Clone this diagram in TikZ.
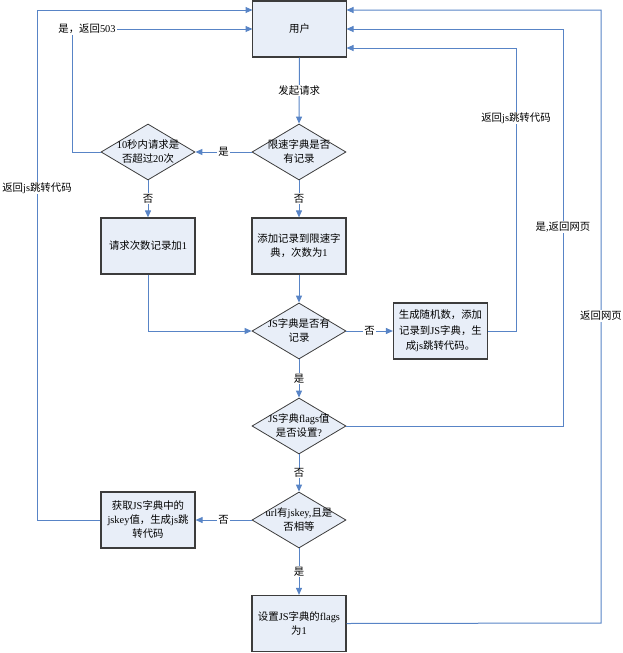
\documentclass[tikz,border=0pt]{standalone}
\usepackage{fontspec}
\setmainfont{Liberation Serif}
\newfontfamily\cjk{Noto Sans CJK SC}
\newfontfamily\latf{Liberation Serif}
\usetikzlibrary{shapes.geometric,arrows.meta}
\XeTeXinterchartokenstate=1
\newXeTeXintercharclass\cjkcls
\newcount\mycnt
\mycnt="4E00
\loop
\XeTeXcharclass\mycnt=\cjkcls
\ifnum\mycnt<"9FFF \advance\mycnt by 1 \repeat
\XeTeXcharclass"FF0C=\cjkcls
\XeTeXcharclass"3002=\cjkcls
\XeTeXinterchartoks 0 \cjkcls = {\cjk}
\XeTeXinterchartoks 4095 \cjkcls = {\cjk}
\XeTeXinterchartoks \cjkcls 0 = {\latf}
\XeTeXinterchartoks \cjkcls 4095 = {\latf}
\definecolor{lnc}{RGB}{88,132,198}
\definecolor{bdc}{RGB}{60,60,60}
\definecolor{fillc}{RGB}{232,238,248}
\begin{document}
\begin{tikzpicture}[x=1pt,y=-1pt,
  font=\fontsize{10.4}{14}\selectfont,
  ln/.style={draw=lnc, line width=1pt},
  arr/.style={ln, -{Triangle[width=6pt,length=7pt]}},
  box/.style={draw=bdc, line width=1.2pt, fill=fillc, minimum width=94pt, minimum height=56pt, align=center, inner sep=2pt},
  dia/.style={diamond, draw=bdc, line width=0.8pt, fill=fillc, minimum width=94pt, minimum height=56pt, inner sep=0pt},
  lab/.style={fill=white, inner sep=1pt}]
\useasboundingbox (0,0) rectangle (623,653);

% nodes
\node[box] (user) at (299.5,29) {用户};
\node[dia, label={[align=center]center:限速字典是否\\有记录}] (d1) at (299,152) {};
\node[dia, label={[align=center]center:10秒内请求是\\否超过20次}] (d2) at (148,152) {};
\node[box] (b1) at (148,246) {请求次数记录加1};
\node[box] (b2) at (299,246) {添加记录到限速字\\典，次数为1};
\node[dia, label={[align=center]center:JS字典是否有\\记录}] (d3) at (299,331) {};
\node[box, font=\fontsize{10.4}{15.5}\selectfont] (b3) at (440.5,331) {生成随机数，添加\\记录到JS字典，生\\成js跳转代码。};
\node[dia, label={[align=center]center:JS字典flags值\\是否设置?}] (d4) at (299,426) {};
\node[dia, label={[align=center]center:url有jskey,且是\\否相等}] (d5) at (299,520) {};
\node[box] (b4) at (148,520) {获取JS字典中的\\jskey值，生成js跳\\转代码};
\node[box] (b5) at (299,623.5) {设置JS字典的flags\\为1};

% anchor coordinates on the user box
\coordinate (ul1) at (252.5,10);
\coordinate (ul2) at (252.5,29);
\coordinate (ur1) at (346.5,10);
\coordinate (ur2) at (346.5,29);
\coordinate (ur3) at (346.5,48);
\coordinate (cx72) at (72,152);
\coordinate (cx37) at (37,520);
\coordinate (cx516) at (516,331);
\coordinate (cx563) at (563,426);
\coordinate (cx601) at (601,623);

% connectors
\draw[arr] (user.south) -- node[lab] {发起请求} (d1.north);
\draw[arr] (d1.west) -- node[lab] {是} (d2.east);
\draw[arr] (d2.west) -- (cx72) |- (ul2);
\draw[arr] (d2.south) -- node[lab] {否} (b1.north);
\draw[arr] (d1.south) -- node[lab] {否} (b2.north);
\draw[arr] (b1.south) |- (d3.west);
\draw[arr] (b2.south) -- (d3.north);
\draw[arr] (d3.east) -- node[lab] {否} (b3.west);
\draw[arr] (b3.east) -- (cx516) |- (ur3);
\draw[arr] (d3.south) -- node[lab] {是} (d4.north);
\draw[arr] (d4.east) -- (cx563) |- (ur2);
\draw[arr] (d4.south) -- node[lab] {否} (d5.north);
\draw[arr] (d5.west) -- node[lab] {否} (b4.east);
\draw[arr] (b4.west) -- (cx37) |- (ul1);
\draw[arr] (d5.south) -- node[lab] {是} (b5.north);
\draw[arr] (b5.east) -- (cx601) |- (ur1);

% labels on the return lines
\node[lab] (l503) at (87,29) {是，返回503};
\node[lab] (ljs1) at (37,188) {返回js跳转代码};
\node[lab] (ljs2) at (516,118) {返回js跳转代码};
\node[lab] (lyes) at (563,227) {是,返回网页};
\node[lab] (lweb) at (601,316) {返回网页};
\end{tikzpicture}
\end{document}
